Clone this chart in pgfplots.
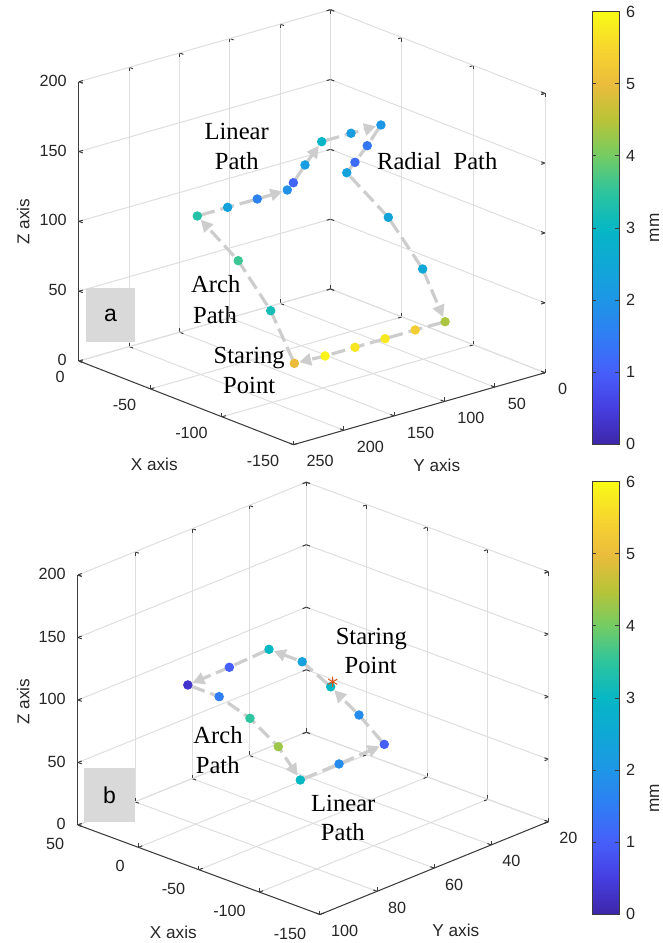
\documentclass[border=0pt]{standalone}
\usepackage{pgfplots}
\pgfplotsset{compat=1.18}
\usepackage{fontspec}
\setmainfont{Liberation Sans}
\newfontfamily\serifont{Liberation Serif}
\usetikzlibrary{arrows.meta,calc}
\definecolor{axcol}{RGB}{60,60,60}
\definecolor{txtcol}{RGB}{38,38,38}
\definecolor{gridcol}{RGB}{222,222,222}
\definecolor{arrcol}{RGB}{205,205,205}
\definecolor{boxgray}{RGB}{217,217,217}
\definecolor{starcol}{RGB}{217,83,25}
\pgfplotsset{
  colormap={parula}{
    rgb255(0cm)=(62,38,168)
    rgb255(1cm)=(70,62,225)
    rgb255(2cm)=(70,95,250)
    rgb255(3cm)=(48,125,245)
    rgb255(4cm)=(30,150,230)
    rgb255(5cm)=(15,168,214)
    rgb255(6cm)=(6,183,196)
    rgb255(7cm)=(45,196,158)
    rgb255(8cm)=(115,204,100)
    rgb255(9cm)=(185,195,55)
    rgb255(10cm)=(235,188,60)
    rgb255(11cm)=(247,214,46)
    rgb255(12cm)=(249,251,21)
  },
  arr/.style={draw=arrcol, line width=1.6pt, dash pattern=on 7pt off 3pt,
    -{Triangle[length=6pt,width=6pt]}, shorten >=2.5pt, shorten <=2pt, no markers, forget plot},
  pts/.style={scatter, only marks, mark=*, mark size=2.15pt, point meta=explicit,
    scatter/use mapped color={draw=mapped color, fill=mapped color}},
  cbarstyle/.style={anchor=south west, scale only axis, width=13.5pt, height=216.3pt,
    ytick={0,1,2,3,4,5,6}, yticklabels={0,1,2,3,4,5,6},
    yticklabel style={font=\fontsize{8.1}{9}\selectfont, text=txtcol},
    axis line style={draw=axcol, line width=0.5pt},
    tick style={draw=axcol, line width=0.5pt}, major tick length=2pt, tick align=inside},
  common3d/.style={anchor=south west, clip=false,
    grid=major, major grid style={draw=gridcol, line width=0.5pt},
    axis line style={draw=none},
    tick style={draw=axcol, line width=0.5pt}, major tick length=2pt, tick align=inside,
    tick label style={font=\fontsize{8.1}{9}\selectfont, text=txtcol},
    colormap name=parula, point meta min=0, point meta max=6, colorbar},
}
\begin{document}
\begin{tikzpicture}
\path[use as bounding box] (0pt,0pt) rectangle (331.5pt,471.5pt);

% ---------------- (a) ----------------
\begin{axis}[common3d,
  at={(39.5pt,249.15pt)},
  x={(-0.715pt,0.279pt)}, y={(-0.503pt,-0.144pt)}, z={(0pt,0.69825pt)},
  xmin=-150, xmax=0, ymin=0, ymax=250, zmin=0, zmax=200,
  xtick={-150,-100,-50,0}, xticklabels={-150,-100,-50,0},
  ytick={0,50,100,150,200,250}, yticklabels={0,50,100,150,200,250},
  ztick={0,50,100,150,200}, zticklabels={0,50,100,150,200},
  xticklabel style={anchor=east, xshift=-3.6pt, yshift=-8pt},
  yticklabel style={anchor=west, xshift=3pt, yshift=-8.3pt},
  zticklabel style={anchor=east, xshift=-2.6pt, yshift=0.5pt},
  colorbar style={cbarstyle, at={($(parent axis.south west)+(248.05pt,0.2pt)$)}},
]
\draw[axcol, line width=0.5pt] (axis cs:0,250,0) -- (axis cs:-150,250,0) -- (axis cs:-150,0,0);
\draw[axcol, line width=0.5pt] (axis cs:0,250,0) -- (axis cs:0,250,200);
% arrows
\addplot3[arr] coordinates {(-95.0,171.0,20) (-69.7,158.5,45) (-51.7,165.2,75) (-29.5,174.3,100)};
\addplot3[arr] coordinates {(-29.5,174.3,100) (-36.7,154.4,105) (-44.1,135.5,110) (-50.9,115.3,115)};
\addplot3[arr] coordinates {(-49.5,107.3,118) (-44.7,88.9,125) (-40.0,65.6,135)};
\addplot3[arr] coordinates {(-40.0,65.6,135) (-47.2,46.7,140) (-54.7,27.6,145)};
\addplot3[arr] coordinates {(-54.7,27.6,145) (-50.4,35.1,130) (-42.3,35.8,115) (-36.2,35.3,105) (-58.5,25.7,80) (-78.8,20.4,50) (-96.6,23.4,20)};
\addplot3[arr] coordinates {(-96.6,23.4,20) (-96.3,52.7,20) (-96.4,82.8,20) (-96.4,112.7,20) (-96.5,142.6,20) (-95.0,171.0,20)};
% measured points
\addplot3[pts] table[meta=c] {
x y z c
-95.0 171.0 20 5.0
-96.5 142.6 20 5.9
-96.4 112.7 20 5.7
-96.4 82.8 20 5.75
-96.3 52.7 20 5.35
-96.6 23.4 20 4.4
-78.8 20.4 50 2.5
-58.5 25.7 80 2.4
-36.2 35.3 105 2.3
-42.3 35.8 115 1.2
-50.4 35.1 130 1.4
-54.7 27.6 145 2.0
-47.2 46.7 140 2.2
-40.0 65.6 135 2.9
-44.7 88.9 125 2.2
-49.5 107.3 118 1.1
-50.9 115.3 115 1.9
-44.1 135.5 110 1.6
-36.7 154.4 105 2.3
-29.5 174.3 100 3.4
-51.7 165.2 75 3.6
-69.7 158.5 45 3.2
};
\end{axis}

% ---------------- (b) ----------------
\begin{axis}[common3d,
  at={(39pt,14.25pt)},
  x={(-0.605pt,0.22375pt)}, y={(-1.427pt,-0.58pt)}, z={(0pt,0.625pt)},
  xmin=-150, xmax=50, ymin=20, ymax=100, zmin=0, zmax=200,
  xtick={-150,-100,-50,0,50}, xticklabels={-150,-100,-50,0,50},
  ytick={20,40,60,80,100}, yticklabels={20,40,60,80,100},
  ztick={0,50,100,150,200}, zticklabels={0,50,100,150,200},
  xticklabel style={anchor=east, xshift=-3.35pt, yshift=-9.5pt},
  yticklabel style={anchor=west, xshift=2pt, yshift=-8.2pt},
  zticklabel style={anchor=east, xshift=-2.6pt, yshift=0.5pt},
  colorbar style={cbarstyle, at={($(parent axis.south west)+(248.55pt,0.1pt)$)}},
]
\draw[axcol, line width=0.5pt] (axis cs:50,100,0) -- (axis cs:-150,100,0) -- (axis cs:-150,20,0);
\draw[axcol, line width=0.5pt] (axis cs:50,100,0) -- (axis cs:50,100,200);
\addplot3[arr] coordinates {(7.7,29.4,60.2) (27.0,31.2,75) (34.6,39.6,90)};
\addplot3[arr] coordinates {(34.6,39.6,90) (39.3,51.5,85) (45.1,63.6,80)};
\addplot3[arr] coordinates {(45.1,63.6,80) (32.4,58.0,70) (9.3,57.0,60) (-13.2,56.6,45) (-38.2,59.5,30)};
\addplot3[arr] coordinates {(-38.2,59.5,30) (-37.9,45.8,30) (-36.6,29.4,30)};
\addplot3[arr] coordinates {(-36.6,29.4,30) (-15.7,29.4,46) (7.7,29.4,60.2)};
\addplot3[pts] table[meta=c] {
x y z c
7.7 29.4 60.2 3.0
27.0 31.2 75 2.3
34.6 39.6 90 3.0
39.3 51.5 85 1.0
45.1 63.6 80 0.3
32.4 58.0 70 1.5
9.3 57.0 60 3.5
-13.2 56.6 45 4.3
-38.2 59.5 30 3.0
-37.9 45.8 30 1.8
-36.6 29.4 30 1.0
-15.7 29.4 46 1.8
};
\addplot3[only marks, mark=asterisk, mark size=2.6pt, draw=starcol, line width=0.5pt] coordinates {(9.8,27.8,62)};
\end{axis}

% ---------- labels ----------
\begin{scope}[every node/.style={inner sep=0pt}]
\fill[boxgray] (43pt,300.5pt) rectangle (67.5pt,327.5pt);
\node[font=\fontsize{11.5}{12}\selectfont] at (55.25pt,314pt) {a};
\fill[boxgray] (42.15pt,60.65pt) rectangle (67.45pt,87.35pt);
\node[font=\fontsize{11.5}{12}\selectfont] at (54.8pt,74pt) {b};

\node[font=\fontsize{8.6}{9}\selectfont, text=txtcol] at (77.1pt,239.5pt) {X axis};
\node[font=\fontsize{8.6}{9}\selectfont, text=txtcol] at (218.35pt,239pt) {Y axis};
\node[font=\fontsize{8.6}{9}\selectfont, text=txtcol, rotate=90] at (11.65pt,360.65pt) {Z axis};
\node[font=\fontsize{8.6}{9}\selectfont, text=txtcol] at (86.65pt,5.4pt) {X axis};
\node[font=\fontsize{8.6}{9}\selectfont, text=txtcol] at (227.9pt,6.35pt) {Y axis};
\node[font=\fontsize{8.6}{9}\selectfont, text=txtcol, rotate=90] at (11.65pt,120.6pt) {Z axis};
\node[font=\fontsize{8.6}{9}\selectfont, text=txtcol, rotate=90] at (327.25pt,357.5pt) {mm};
\node[font=\fontsize{8.6}{9}\selectfont, text=txtcol, rotate=90] at (327.25pt,72.5pt) {mm};

\begin{scope}[every node/.append style={font=\serifont\fontsize{12.3}{14}\selectfont, anchor=base}]
\node at (118.35pt,401.85pt) {Linear};
\node at (118.35pt,386.85pt) {Path};
\node[anchor=base west] at (188.35pt,386.85pt) {Radial\ \ Path};
\node at (107.9pt,325.15pt) {Arch};
\node at (107.5pt,309.85pt) {Path};
\node at (124.6pt,289.85pt) {Staring};
\node at (124.6pt,274.85pt) {Point};
\node at (185.65pt,149.0pt) {Staring};
\node at (185.35pt,134.85pt) {Point};
\node at (109pt,99.85pt) {Arch};
\node at (108.85pt,84.85pt) {Path};
\node at (171.65pt,65.65pt) {Linear};
\node at (171.4pt,51.15pt) {Path};
\end{scope}
\end{scope}
\end{tikzpicture}
\end{document}
